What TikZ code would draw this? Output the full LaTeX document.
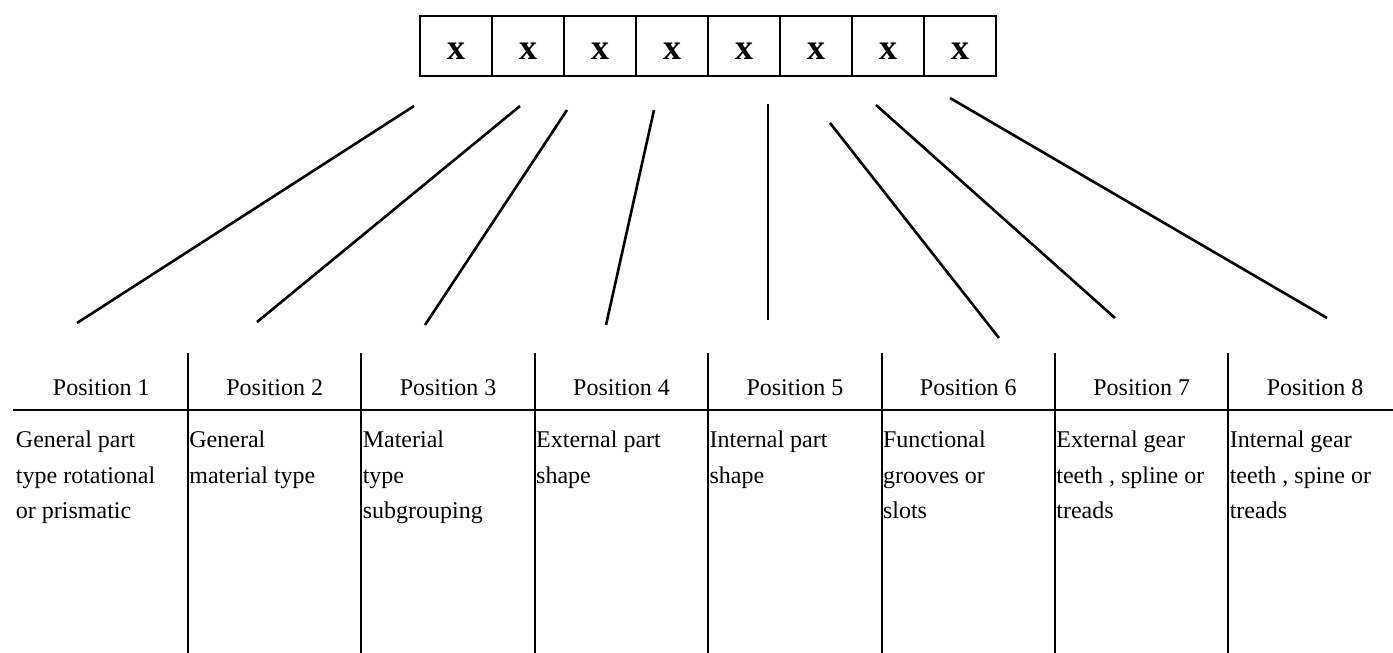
\documentclass[tikz,border=0pt]{standalone}
\usepackage{fontspec}
\setmainfont{Liberation Serif}
\usetikzlibrary{positioning}

\begin{document}
\begin{tikzpicture}[x=0.5pt,y=-0.5pt,
    cell/.style={draw,line width=0.8pt,outer sep=0pt,inner sep=0pt,
      minimum width=36pt,minimum height=30pt,text height=14pt,text depth=0pt,
      font=\fontsize{18}{18}\selectfont\bfseries},
    head/.style={anchor=base,inner sep=0pt,font=\fontsize{12}{14}\selectfont},
    body/.style={anchor=base west,inner sep=0pt,font=\fontsize{12}{14}\selectfont},
    link/.style={line width=1.3pt},
    rule/.style={line width=1pt}]
    \useasboundingbox (0,0) rectangle (1393,653);

    \node[cell] (c1) at (456,46) {x};
    \foreach \i [count=\j from 1] in {2,...,8}
        \node[cell,right=0pt of c\j] (c\i) {x};

    \coordinate (top1) at (414,106);  \coordinate (bot1) at (77,323);
    \coordinate (top2) at (520,106);  \coordinate (bot2) at (257,322);
    \coordinate (top3) at (567,110);  \coordinate (bot3) at (425,325);
    \coordinate (top4) at (654,110);  \coordinate (bot4) at (606,325);
    \coordinate (top5) at (768,104);  \coordinate (bot5) at (768,320);
    \coordinate (top6) at (830,123);  \coordinate (bot6) at (999,338);
    \coordinate (top7) at (876,105);  \coordinate (bot7) at (1115,318);
    \coordinate (top8) at (950,98);   \coordinate (bot8) at (1327,318);
    \foreach \i in {1,2,3,4,6,7,8}
        \draw[link] (top\i) -- (bot\i);
    \draw[line width=0.8pt] (top5) -- (bot5);

    \draw[rule] (13,410) -- (1393,410);
    \foreach \i in {1,...,7}
        \draw[rule] ({14.6+173.4*\i},353) -- ({14.6+173.4*\i},653);

    \foreach \i in {1,...,8}
        \node[head] (h\i) at ({101.3+173.4*(\i-1)},395) {Position \i};

    \foreach \i/\a/\b/\c in {1/General part/type rotational/or prismatic,
                             2/General/material type/,
                             3/Material/type/subgrouping,
                             4/External part/shape/,
                             5/Internal part/shape/,
                             6/Functional/grooves or/slots,
                             7/External gear/{teeth , spline or}/treads,
                             8/Internal gear/{teeth , spine or}/treads} {
        \node[body] (d\i a) at ({15.6+173.4*(\i-1)},447) {\a};
        \node[body] (d\i b) at ({15.6+173.4*(\i-1)},483) {\b};
        \node[body] (d\i c) at ({15.6+173.4*(\i-1)},518) {\c};
    }
\end{tikzpicture}
\end{document}
